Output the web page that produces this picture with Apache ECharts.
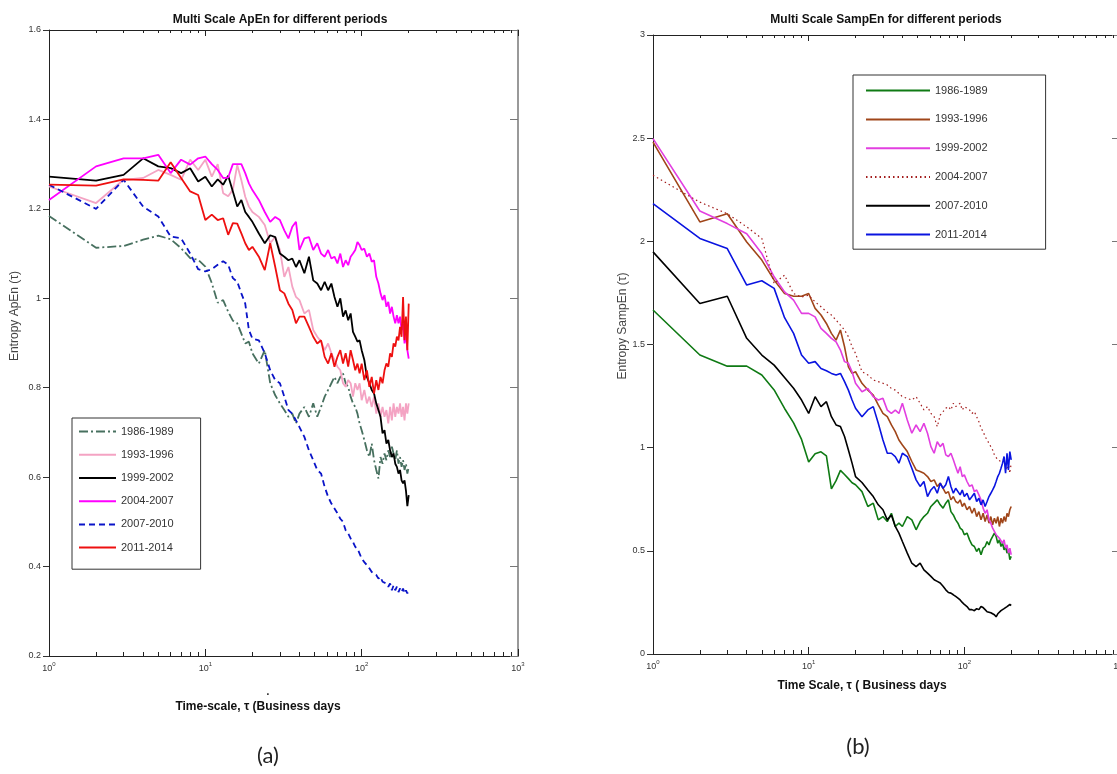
<!DOCTYPE html>
<html><head><meta charset="utf-8">
<script src="https://cdn.jsdelivr.net/npm/echarts@6/dist/echarts.min.js"></script>
<style>html,body{margin:0;padding:0;background:#fff}#c{width:1117px;height:774px}</style>
</head><body><div id="c"></div>
<script>
// ---- data ----
const TAU = [1,2,3,4,5,6,7,8,9,10,11,12,13,14,15,16,17,18,19,20,22,24,26,28,30,32,34,36,38,40,43,46,49,52,55,58,61,64,67,70,73,76,79,82,85,88,91,94,97,100,104,108,112,116,120,124,128,132,136,140,144,148,152,156,160,164,168,172,176,180,184,188,192,196,200];
const PERIODS_A = ['1986-1989','1993-1996','1999-2002','2004-2007','2007-2010','2011-2014'];
const PERIODS_B = ['1986-1989','1993-1996','1999-2002','2004-2007','2007-2010','2011-2014'];

// (a) Multi Scale ApEn
const APEN_1986 = [1.184,1.113,1.117,1.131,1.14,1.132,1.112,1.09,1.086,1.071,1.034,0.99,0.996,0.97,0.95,
  0.944,0.921,0.899,0.903,0.877,
  0.854,0.884,0.81,0.783,0.765,0.75,0.735,0.742,0.72,0.742,
  0.757,0.735,0.765,0.735,0.757,0.78,0.795,0.81,0.824,0.81,0.824,0.832,0.81,0.802,0.78,0.765,0.757,0.742,0.72,0.705,
  0.683,0.66,0.645,0.675,0.638,0.616,0.597,0.645,0.63,0.653,0.638,0.66,0.645,0.668,0.653,0.638,0.66,0.63,0.645,0.623,0.638,0.616,0.63,0.608,0.623];
const APEN_1993 = [1.25,1.213,1.265,1.269,1.287,1.276,1.265,1.31,1.287,1.31,1.272,1.30,1.235,1.228,1.243,
  1.298,1.264,1.227,1.205,1.193,
  1.182,1.164,1.123,1.137,1.108,1.048,1.07,1.026,1.003,0.996,
  0.966,0.974,0.929,0.914,0.903,0.884,0.899,0.877,0.862,0.847,0.839,0.81,0.802,0.817,0.81,0.78,0.81,0.795,0.81,0.772,
  0.795,0.765,0.78,0.757,0.78,0.742,0.765,0.735,0.757,0.735,0.75,0.72,0.757,0.727,0.765,0.735,0.757,0.742,0.765,0.735,0.757,0.727,0.765,0.742,0.765];
const APEN_1999 = [1.272,1.263,1.276,1.313,1.295,1.291,1.28,1.291,1.261,1.272,1.25,1.266,1.254,1.274,1.239,
  1.205,1.22,1.193,1.182,1.171,
  1.145,1.123,1.141,1.137,1.10,1.093,1.085,1.089,1.07,1.085,
  1.056,1.093,1.04,1.033,1.018,1.037,1.018,1.033,1.003,0.981,1.0,0.959,0.973,0.951,0.966,0.925,0.914,0.903,0.906,0.884,
  0.862,0.824,0.81,0.795,0.787,0.765,0.75,0.735,0.698,0.705,0.675,0.683,0.66,0.645,0.653,0.63,0.623,0.608,0.616,0.593,0.586,0.593,0.57,0.535,0.56];
const APEN_2004 = [1.22,1.295,1.313,1.313,1.321,1.28,1.31,1.299,1.313,1.317,1.30,1.287,1.269,1.27,1.30,
  1.30,1.30,1.28,1.257,1.242,
  1.22,1.193,1.171,1.182,1.175,1.152,1.134,1.16,1.171,1.108,
  1.134,1.137,1.108,1.123,1.10,1.093,1.108,1.089,1.093,1.078,1.10,1.07,1.085,1.074,1.093,1.10,1.108,1.126,1.119,1.108,
  1.111,1.093,1.10,1.082,1.085,1.048,1.033,1.011,0.996,1.007,0.981,0.992,0.966,0.981,0.959,0.944,0.962,0.944,0.959,0.929,0.944,0.899,0.921,0.884,0.865];
const APEN_2007 = [1.254,1.2,1.265,1.205,1.183,1.138,1.134,1.10,1.065,1.06,1.065,1.075,1.083,1.075,1.045,
  1.037,1.011,0.988,0.929,0.91,
  0.906,0.877,0.839,0.817,0.81,0.78,0.75,0.742,0.727,0.712,
  0.69,0.66,0.638,0.616,0.608,0.578,0.556,0.541,0.53,0.519,0.507,0.5,0.481,0.474,0.463,0.455,0.444,0.44,0.429,0.418,
  0.41,0.403,0.396,0.388,0.384,0.381,0.373,0.377,0.366,0.37,0.362,0.355,0.362,0.347,0.358,0.347,0.355,0.343,0.351,0.343,0.351,0.34,0.347,0.34,0.347];
const APEN_2011 = [1.254,1.252,1.266,1.265,1.263,1.304,1.269,1.239,1.231,1.175,1.187,1.175,1.179,1.142,1.168,
  1.167,1.145,1.123,1.108,1.115,
  1.093,1.063,1.123,1.07,1.018,1.011,0.988,0.974,0.944,0.959,
  0.959,0.936,0.914,0.899,0.906,0.869,0.854,0.877,0.847,0.869,0.884,0.854,0.877,0.847,0.884,0.862,0.839,0.854,0.832,0.854,
  0.817,0.839,0.802,0.824,0.787,0.817,0.795,0.824,0.81,0.839,0.854,0.847,0.877,0.869,0.899,0.892,0.914,0.906,0.936,0.914,1.003,0.906,0.959,0.884,0.988];

// (b) Multi Scale SampEn
const SAMP_1986 = [1.667,1.449,1.395,1.395,1.352,1.28,1.19,1.12,1.04,0.93,0.97,0.98,0.96,0.80,0.84,0.89,0.87,0.85,0.83,0.82,
  0.787,0.715,0.731,0.65,0.666,0.642,0.682,0.618,0.634,0.618,
  0.666,0.65,0.602,0.642,0.666,0.682,0.715,0.731,0.747,0.723,0.707,0.731,0.747,0.69,0.674,0.65,0.634,0.61,0.602,0.578,
  0.586,0.553,0.529,0.521,0.497,0.513,0.481,0.513,0.521,0.545,0.529,0.553,0.561,0.586,0.57,0.537,0.553,0.521,0.537,0.505,0.521,0.489,0.505,0.457,0.473];
const SAMP_1993 = [2.481,2.094,2.134,1.997,1.909,1.812,1.747,1.734,1.734,1.747,1.675,1.643,1.602,1.554,1.521,1.57,1.489,1.392,1.36,1.368,
  1.312,1.279,1.255,1.207,1.166,1.15,1.11,1.078,1.037,1.013,
  0.981,0.933,0.892,0.884,0.876,0.86,0.836,0.844,0.812,0.828,0.803,0.779,0.787,0.747,0.763,0.739,0.731,0.747,0.715,0.731,
  0.699,0.715,0.682,0.707,0.666,0.69,0.65,0.682,0.642,0.674,0.634,0.666,0.626,0.658,0.634,0.666,0.618,0.658,0.634,0.666,0.642,0.682,0.666,0.699,0.715];
const SAMP_1999 = [2.498,2.147,2.086,2.037,1.941,1.828,1.755,1.715,1.651,1.651,1.634,1.578,1.554,1.53,1.513,1.473,1.417,1.409,1.368,1.312,
  1.271,1.287,1.247,1.231,1.239,1.182,1.166,1.182,1.166,1.215,
  1.134,1.07,1.11,1.078,1.118,1.07,1.005,0.973,1.029,1.005,1.021,0.965,0.957,0.973,0.941,0.908,0.876,0.908,0.86,0.868,
  0.836,0.812,0.82,0.787,0.795,0.771,0.747,0.707,0.682,0.699,0.65,0.634,0.61,0.618,0.578,0.586,0.561,0.57,0.537,0.553,0.513,0.529,0.489,0.513,0.481];
const SAMP_2004 = [2.32,2.19,2.134,2.07,2.014,1.796,1.836,1.747,1.73,1.739,1.707,1.683,1.659,1.643,1.618,1.594,1.57,1.538,1.489,1.457,
  1.368,1.352,1.328,1.32,1.312,1.304,1.287,1.279,1.263,1.247,
  1.239,1.231,1.247,1.215,1.183,1.199,1.166,1.15,1.102,1.158,1.175,1.191,1.199,1.183,1.215,1.199,1.207,1.215,1.183,1.199,
  1.191,1.183,1.166,1.175,1.15,1.126,1.094,1.078,1.054,1.037,1.021,1.005,0.989,0.965,0.957,0.941,0.949,0.933,0.925,0.941,0.908,0.892,0.916,0.876,0.925];
const SAMP_2007 = [1.949,1.699,1.734,1.53,1.449,1.40,1.34,1.288,1.231,1.166,1.247,1.199,1.223,1.15,1.11,1.102,1.054,0.989,0.925,0.86,
  0.831,0.795,0.763,0.723,0.699,0.65,0.674,0.618,0.586,0.545,
  0.489,0.44,0.424,0.44,0.408,0.392,0.376,0.36,0.352,0.344,0.328,0.311,0.298,0.295,0.287,0.279,0.271,0.262,0.25,0.24,
  0.23,0.215,0.215,0.21,0.22,0.215,0.23,0.225,0.215,0.205,0.21,0.2,0.2,0.19,0.18,0.195,0.2,0.21,0.205,0.22,0.215,0.23,0.225,0.24,0.235];
const SAMP_2011 = [2.183,2.014,1.965,1.788,1.809,1.772,1.63,1.554,1.449,1.409,1.417,1.384,1.373,1.36,1.352,1.36,1.32,1.279,1.231,1.191,
  1.15,1.183,1.199,1.118,1.037,0.973,0.973,0.957,0.925,0.973,
  0.957,0.9,0.844,0.812,0.836,0.763,0.795,0.812,0.779,0.828,0.803,0.82,0.86,0.812,0.779,0.803,0.787,0.771,0.795,0.763,
  0.779,0.747,0.763,0.779,0.739,0.755,0.723,0.747,0.715,0.739,0.763,0.779,0.795,0.812,0.836,0.86,0.876,0.9,0.925,0.957,0.876,0.973,0.892,0.981,0.941];

const APEN_Y = {min: 0.2, max: 1.6, step: 0.2};
const SAMP_Y = {min: 0, max: 3, step: 0.5};
const X_RANGE = {min: 1, max: 1000};

// ---- chart ----
const FONT = '"Liberation Sans", Arial, sans-serif';
const chart = echarts.init(document.getElementById('c'), null, {renderer: 'canvas'});

function xAxes(grid, bottom) {
  const common = {
    type: 'log', logBase: 10, gridIndex: grid, min: X_RANGE.min, max: X_RANGE.max,
    splitLine: {show: false},
    axisLine: {show: true, onZero: false, lineStyle: {color: '#222', width: 1}},
    minorTick: {show: true, splitNumber: 9, length: bottom ? 4 : 3, lineStyle: {color: '#222'}},
    axisTick: {show: true, inside: true, length: bottom ? 7 : 6, lineStyle: {color: '#222'}},
  };
  if (bottom) {
    return Object.assign(common, {
      position: 'bottom',
      axisLabel: {
        show: true, margin: 5, color: '#333', fontFamily: FONT,
        formatter: v => '{b|10}{s|' + Math.round(Math.log10(v)) + '}',
        rich: {b: {fontSize: 9, fontFamily: FONT, color: '#333', verticalAlign: 'bottom', lineHeight: 12},
               s: {fontSize: 6, fontFamily: FONT, color: '#333', verticalAlign: 'top', lineHeight: 12, padding: [0,0,4,0]}}
      }
    });
  }
  return Object.assign(common, {position: 'top', axisLabel: {show: false}});
}
function yAxes(grid, rng, left) {
  const common = {
    type: 'value', gridIndex: grid, min: rng.min, max: rng.max, interval: rng.step,
    splitLine: {show: false},
    axisLine: {show: true, onZero: false, lineStyle: {color: left ? '#222' : '#777', width: left ? 1 : 1.5}},
  };
  if (left) {
    return Object.assign(common, {position: 'left',
      axisTick: {show: true, inside: false, length: 6, lineStyle: {color: '#333'}},
      axisLabel: {show: true, margin: 8, fontSize: 9, color: '#333', fontFamily: FONT}});
  }
  return Object.assign(common, {position: 'right',
    axisTick: {show: true, inside: true, length: 8, lineStyle: {color: '#777'}},
    axisLabel: {show: false}});
}

function line(name, vals, color, width, type, xi, yi) {
  return {
    type: 'line', name: name, xAxisIndex: xi, yAxisIndex: yi,
    data: TAU.map((t, i) => [t, vals[i]]),
    symbol: 'none', showSymbol: false, animation: false, smooth: false,
    lineStyle: {color: color, width: width, type: type},
    itemStyle: {color: color}
  };
}
const B = 'b:';
const series = [
  line(PERIODS_A[0], APEN_1986, '#47705f', 1.8, [9, 3, 2, 3], 0, 0),
  line(PERIODS_A[1], APEN_1993, '#f4a3c3', 1.8, 'solid', 0, 0),
  line(PERIODS_A[2], APEN_1999, '#000000', 1.8, 'solid', 0, 0),
  line(PERIODS_A[3], APEN_2004, '#ff00ff', 1.8, 'solid', 0, 0),
  line(PERIODS_A[4], APEN_2007, '#0a14c8', 1.8, [6, 4], 0, 0),
  line(PERIODS_A[5], APEN_2011, '#ee1010', 1.8, 'solid', 0, 0),
  line(B + PERIODS_B[0], SAMP_1986, '#0f7a14', 1.6, 'solid', 2, 2),
  line(B + PERIODS_B[1], SAMP_1993, '#a0461a', 1.6, 'solid', 2, 2),
  line(B + PERIODS_B[2], SAMP_1999, '#e23fe0', 1.6, 'solid', 2, 2),
  line(B + PERIODS_B[3], SAMP_2004, '#a31c1c', 1.2, [1.5, 3], 2, 2),
  line(B + PERIODS_B[4], SAMP_2007, '#000000', 1.6, 'solid', 2, 2),
  line(B + PERIODS_B[5], SAMP_2011, '#0a14e0', 1.6, 'solid', 2, 2)
];

const legendCommon = {
  orient: 'vertical', backgroundColor: '#fff', borderColor: '#333', borderWidth: 1,
  itemHeight: 14, selectedMode: false,
  itemStyle: {opacity: 0, borderWidth: 0},
  textStyle: {fontSize: 11, color: '#333', fontFamily: FONT}
};

const option = {
  backgroundColor: '#fff',
  animation: false,
  grid: [
    {left: 49, right: 599, top: 30, bottom: 118, containLabel: false, outerBoundsMode: 'none'},
    {left: 653, right: -3, top: 35, bottom: 120, containLabel: false, outerBoundsMode: 'none'}
  ],
  xAxis: [xAxes(0, true), xAxes(0, false), xAxes(1, true), xAxes(1, false)],
  yAxis: [yAxes(0, APEN_Y, true), yAxes(0, APEN_Y, false), yAxes(1, SAMP_Y, true), yAxes(1, SAMP_Y, false)],
  legend: [
    Object.assign({}, legendCommon, {
      data: PERIODS_A, left: 72, top: 418, padding: [8, 27, 16, 6],
      itemWidth: 37, itemGap: 12
    }),
    Object.assign({}, legendCommon, {
      data: PERIODS_B.map(p => B + p), left: 853, top: 75, padding: [10, 58, 9, 12],
      itemWidth: 64, itemGap: 17.6, formatter: n => n.replace(B, '')
    })
  ],
  graphic: [
    {type: 'text', x: 280, y: 20, style: {text: 'Multi Scale ApEn for different periods', font: 'bold 12px ' + FONT, fill: '#111', textAlign: 'center', textVerticalAlign: 'middle'}},
    {type: 'text', x: 886, y: 20, style: {text: 'Multi Scale SampEn for different periods', font: 'bold 12px ' + FONT, fill: '#111', textAlign: 'center', textVerticalAlign: 'middle'}},
    {type: 'text', x: 258, y: 707, style: {text: 'Time-scale, \u03c4 (Business days', font: 'bold 12px ' + FONT, fill: '#111', textAlign: 'center', textVerticalAlign: 'middle'}},
    {type: 'text', x: 268, y: 692, style: {text: '.', font: 'bold 10px ' + FONT, fill: '#111', textAlign: 'center', textVerticalAlign: 'middle'}},
    {type: 'text', x: 862, y: 686, style: {text: 'Time Scale, \u03c4 ( Business days', font: 'bold 12px ' + FONT, fill: '#111', textAlign: 'center', textVerticalAlign: 'middle'}},
    {type: 'text', x: 15, y: 316, rotation: Math.PI / 2, style: {text: 'Entropy ApEn (\u03c4)', font: '12px ' + FONT, fill: '#444', textAlign: 'center', textVerticalAlign: 'middle'}},
    {type: 'text', x: 623, y: 326, rotation: Math.PI / 2, style: {text: 'Entropy SampEn (\u03c4)', font: '12px ' + FONT, fill: '#444', textAlign: 'center', textVerticalAlign: 'middle'}},
    {type: 'text', x: 268, y: 756, style: {text: '(a)', font: '22px Lato, "Open Sans", sans-serif', fill: '#222', textAlign: 'center', textVerticalAlign: 'middle'}},
    {type: 'text', x: 858, y: 747, style: {text: '(b)', font: '22px Lato, "Open Sans", sans-serif', fill: '#222', textAlign: 'center', textVerticalAlign: 'middle'}}
  ],
  series: series
};
chart.setOption(option);
</script></body></html>
